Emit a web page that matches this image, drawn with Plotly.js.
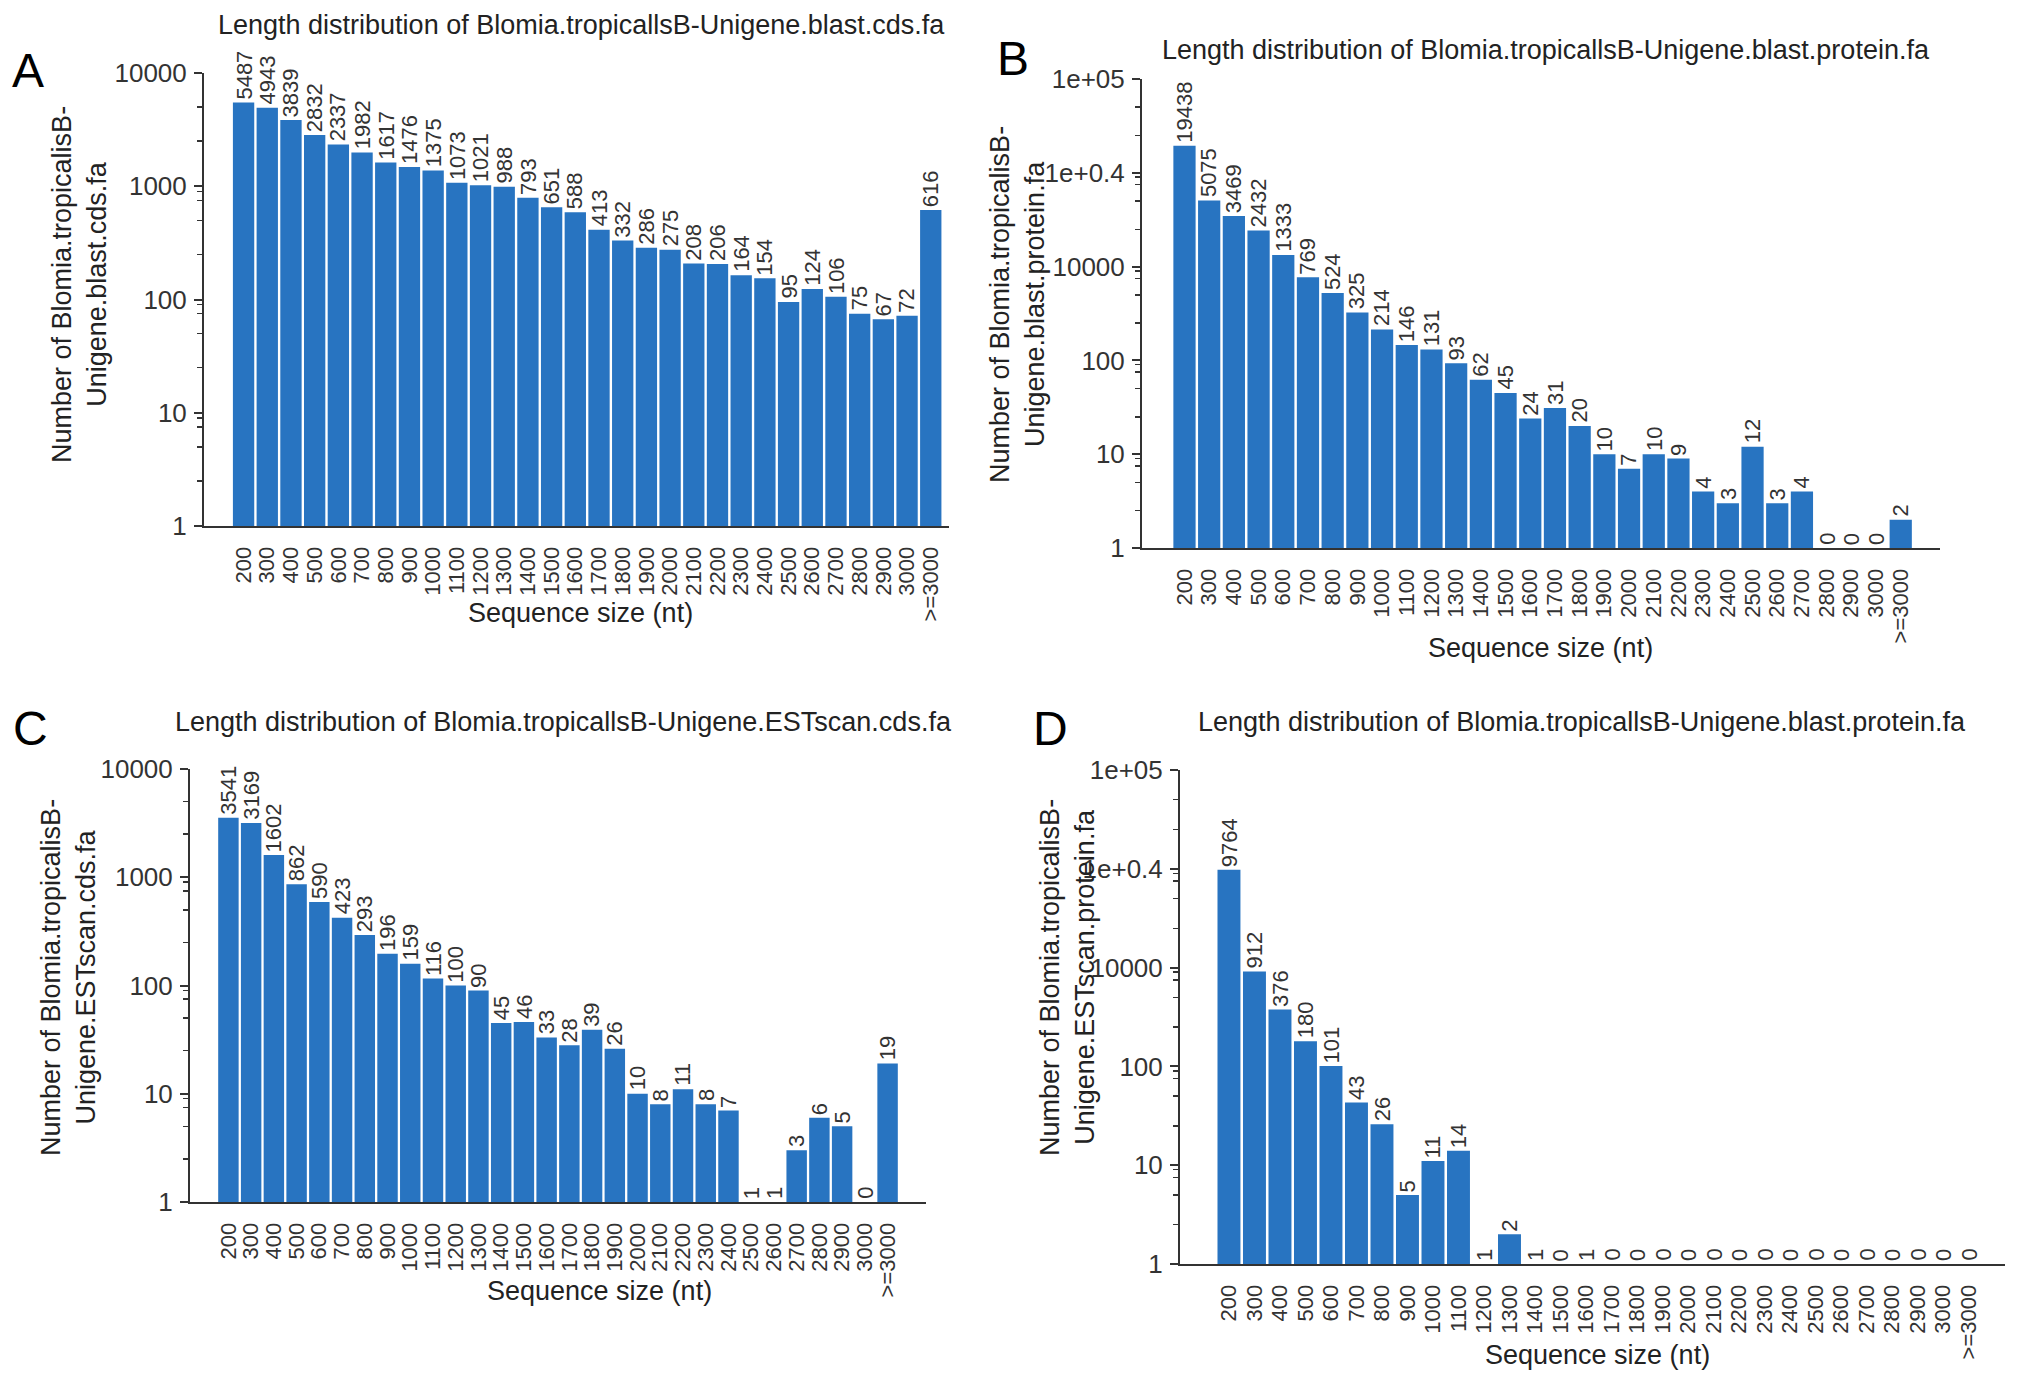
<!DOCTYPE html>
<html><head><meta charset="utf-8">
<script src="https://cdn.plot.ly/plotly-3.0.1.min.js"></script>
<style>html,body{margin:0;padding:0;background:#fff}#chart{width:2032px;height:1382px}</style>
</head><body><div id="chart"></div>
<script>
// ---------- data ----------
const categories = ['200','300','400','500','600','700','800','900','1000','1100','1200','1300','1400','1500','1600','1700','1800','1900','2000','2100','2200','2300','2400','2500','2600','2700','2800','2900','3000','>=3000'];
const valuesA = [5487,4943,3839,2832,2337,1982,1617,1476,1375,1073,1021,988,793,651,588,413,332,286,275,208,206,164,154,95,124,106,75,67,72,616];
const valuesB = [19438,5075,3469,2432,1333,769,524,325,214,146,131,93,62,45,24,31,20,10,7,10,9,4,3,12,3,4,0,0,0,2];
const valuesC = [3541,3169,1602,862,590,423,293,196,159,116,100,90,45,46,33,28,39,26,10,8,11,8,7,1,1,3,6,5,0,19];
const valuesD = [9764,912,376,180,101,43,26,5,11,14,1,2,1,0,1,0,0,0,0,0,0,0,0,0,0,0,0,0,0,0];

const titleA = 'Length distribution of Blomia.tropicallsB-Unigene.blast.cds.fa';
const titleB = 'Length distribution of Blomia.tropicallsB-Unigene.blast.protein.fa';
const titleC = 'Length distribution of Blomia.tropicallsB-Unigene.ESTscan.cds.fa';
const titleD = 'Length distribution of Blomia.tropicallsB-Unigene.blast.protein.fa';
const yTitleA = 'Number of Blomia.tropicalisB-<br>Unigene.blast.cds.fa';
const yTitleB = 'Number of Blomia.tropicalisB-<br>Unigene.blast.protein.fa';
const yTitleC = 'Number of Blomia.tropicalisB-<br>Unigene.ESTscan.cds.fa';
const yTitleD = 'Number of Blomia.tropicalisB-<br>Unigene.ESTscan.protein.fa';
const xTitle = 'Sequence size (nt)';

const yTickVals4 = [1,10,100,1000,10000];
const yTickText4 = ['1','10','100','1000','10000'];
const yTickVals5 = [1,10,100,1000,10000,100000];
const yTickText5 = ['1','10','100','10000','1e+0.4','1e+05'];

// ---------- layout helpers ----------
const W = 2032, H = 1382;
const px = v => v / W;
const py = v => 1 - v / H;
const FONT = '"Liberation Sans", Arial, Helvetica, sans-serif';
const BAR = '#2874c1';
const INK = '#333333';

const panels = [
  {letter:'A', vals:valuesA, tv:yTickVals4, tt:yTickText4, top:4, box:{l:204,r:949,t:73,b:526}, xr:[-1.67,29.77],
   title:titleA, yTitle:yTitleA, letterPos:[28,70], titlePos:[581,25], yTitlePos:[79,285], xTitlePos:[580,613]},
  {letter:'B', vals:valuesB, tv:yTickVals5, tt:yTickText5, top:5, box:{l:1142,r:1940,t:79,b:548}, xr:[-1.72,30.59],
   title:titleB, yTitle:yTitleB, letterPos:[1013,59], titlePos:[1546,50], yTitlePos:[1017,305], xTitlePos:[1540,648]},
  {letter:'C', vals:valuesC, tv:yTickVals4, tt:yTickText4, top:4, box:{l:190,r:926,t:769,b:1202}, xr:[-1.69,30.69],
   title:titleC, yTitle:yTitleC, letterPos:[30,728], titlePos:[563,722], yTitlePos:[68,978], xTitlePos:[599,1291]},
  {letter:'D', vals:valuesD, tv:yTickVals5, tt:yTickText5, top:5, box:{l:1180,r:2005,t:770,b:1264}, xr:[-1.92,30.43],
   title:titleD, yTitle:yTitleD, letterPos:[1050,728], titlePos:[1582,722], yTitlePos:[1067,978], xTitlePos:[1597,1355]}
];

function minorVals(top){
  const out = [];
  for (let k = 0; k < top; k++){
    const m = (k === top - 1) ? [2.5,5] : [2.5,5,7.5,9];
    m.forEach(f => out.push(f * Math.pow(10,k)));
  }
  return out;
}

const data = [];
const layout = {
  width: W, height: H,
  margin: {l:0, r:0, t:0, b:0},
  paper_bgcolor: '#fff', plot_bgcolor: '#fff',
  showlegend: false,
  font: {family: FONT, color: INK},
  bargap: 0.1,
  annotations: []
};

panels.forEach((p, i) => {
  const n = i === 0 ? '' : String(i + 1);
  const xa = 'x' + n, ya = 'y' + n;
  data.push({
    type: 'bar', x: categories, y: p.vals, xaxis: xa, yaxis: ya,
    marker: {color: BAR, line: {width: 0}}, hoverinfo: 'skip'
  });
  layout['xaxis' + n] = {
    domain: [px(p.box.l), px(p.box.r)], anchor: ya, type: 'category',
    range: p.xr, showgrid: false, zeroline: false,
    showline: true, linecolor: INK, linewidth: 2,
    ticks: '', tickmode: 'array', tickvals: categories, ticktext: categories,
    tickangle: -90, tickfont: {size: 22, color: INK, family: FONT},
    ticklabelstandoff: 10, fixedrange: true
  };
  layout['yaxis' + n] = {
    domain: [py(p.box.b), py(p.box.t)], anchor: xa, type: 'log',
    range: [0, p.top], showgrid: false, zeroline: false,
    showline: true, linecolor: INK, linewidth: 2,
    ticks: 'outside', ticklen: 8, tickwidth: 2, tickcolor: INK,
    tickmode: 'array', tickvals: p.tv, ticktext: p.tt,
    tickfont: {size: 26, color: INK, family: FONT},
    minor: {tickmode: 'array', tickvals: minorVals(p.top), ticks: 'outside', ticklen: 5, tickwidth: 1.5, tickcolor: INK, showgrid: false},
    ticklabelstandoff: 2, fixedrange: true
  };
  // value labels above bars
  p.vals.forEach((v, j) => {
    layout.annotations.push({
      xref: xa, yref: ya, x: j, y: Math.log10(Math.max(v, 1)),
      text: String(v), showarrow: false, textangle: -90,
      xanchor: 'center', yanchor: 'bottom', yshift: 1,
      font: {size: 22, color: INK, family: FONT}
    });
  });
  // panel title
  layout.annotations.push({xref:'paper', yref:'paper', x: px(p.titlePos[0]), y: py(p.titlePos[1]),
    text: p.title, showarrow:false, xanchor:'center', yanchor:'middle', font:{size:27, color:'#222', family:FONT}});
  // panel letter
  layout.annotations.push({xref:'paper', yref:'paper', x: px(p.letterPos[0]), y: py(p.letterPos[1]),
    text: p.letter, showarrow:false, xanchor:'center', yanchor:'middle', font:{size:48, color:'#000', family:FONT}});
  // y title
  layout.annotations.push({xref:'paper', yref:'paper', x: px(p.yTitlePos[0]), y: py(p.yTitlePos[1]),
    text: p.yTitle, showarrow:false, textangle:-90, xanchor:'center', yanchor:'middle',
    font:{size:27, color:'#222', family:FONT}});
  // x title
  layout.annotations.push({xref:'paper', yref:'paper', x: px(p.xTitlePos[0]), y: py(p.xTitlePos[1]),
    text: xTitle, showarrow:false, xanchor:'center', yanchor:'middle', font:{size:27, color:'#222', family:FONT}});
});

Plotly.newPlot('chart', data, layout, {displayModeBar: false, staticPlot: true});
</script>
</body></html>
